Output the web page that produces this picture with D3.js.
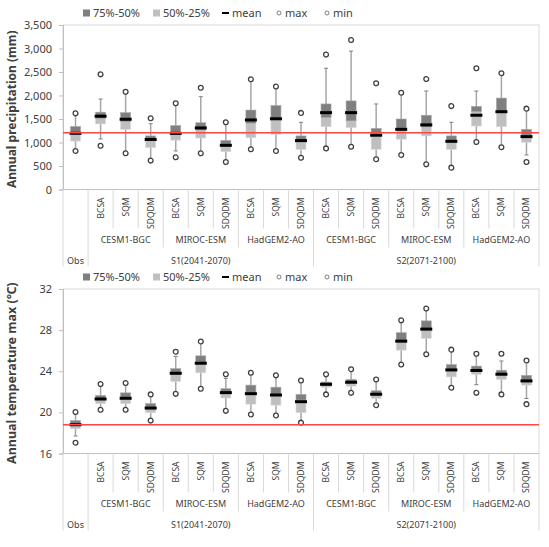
<!DOCTYPE html>
<html>
<head>
<meta charset="utf-8">
<script src="https://cdn.jsdelivr.net/npm/d3@7"></script>
<style>
  body { margin: 0; background: #fff; }
  text { font-family: "Noto Sans", "Open Sans", sans-serif; fill: #404040; }
</style>
</head>
<body>
<svg id="chart" width="549" height="547"></svg>
<script>
// category structure
const methods = ["BCSA", "SQM", "SDQDM"];
const models = ["CESM1-BGC", "MIROC-ESM", "HadGEM2-AO"];
const scenarios = ["S1(2041-2070)", "S2(2071-2100)"];

// annual precipitation (mm), Obs + 18 runs
const precipMax   = [1620, 2450, 2080, 1515, 1835, 2165, 1430, 2345, 2190, 1630, 2870, 3180, 2260, 2060, 2350, 1775, 2580, 2475, 1720];
const precipHi    = [1620, 1925, 2080, 1400, 1835, 1975, 1430, 2345, 2190, 1430, 2580, 2945, 1820, 2060, 2095, 1430, 2095, 2475, 1720];
const precipQ3    = [1340, 1645, 1635, 1140, 1360, 1420, 1045, 1690, 1785, 1140, 1820, 1885, 1300, 1500, 1580, 1140, 1770, 1945, 1280];
const precipMed   = [1200, 1515, 1445, 1040, 1160, 1265,  965, 1410, 1480, 1015, 1530, 1460, 1200, 1275, 1330, 1050, 1655, 1635, 1160];
const precipQ1    = [1030, 1395, 1280,  890, 1050, 1095,  805, 1100, 1175,  855, 1335, 1315,  855, 1070, 1140,  855, 1350, 1335, 1005];
const precipLo    = [ 820, 1075,  770,  615,  820,  770,  585,  855,  820,  675,  875,  910,  645,  735,  535,  465, 1010,  900,  735];
const precipMin   = [ 820,  930,  770,  615,  685,  770,  585,  855,  820,  675,  875,  910,  645,  735,  535,  465, 1010,  900,  585];
const precipMean  = [1196, 1560, 1495, 1065, 1195, 1310,  940, 1480, 1505, 1040, 1635, 1635, 1155, 1280, 1375, 1025, 1580, 1655, 1125];
const precipObs = 1205;

// annual temperature max (°C)
const tempMax  = [20.03, 22.75, 22.85, 21.75, 25.9, 26.9, 23.7, 23.85, 23.6, 23.1, 23.7, 24.2, 23.2, 28.95, 30.1, 26.1, 25.7, 25.7, 25.05];
const tempHi   = [20.03, 22.75, 22.85, 21.75, 25.45, 26.9, 23.3, 23.85, 23.6, 23.1, 23.7, 24.2, 23.2, 28.95, 30.1, 26.1, 25.7, 25.0, 25.05];
const tempQ3   = [19.2, 21.65, 21.9, 20.85, 24.25, 25.5, 22.3, 22.65, 22.45, 21.75, 22.95, 23.2, 22.1, 27.75, 28.9, 24.65, 24.5, 24.1, 23.6];
const tempMed  = [18.9, 21.3, 21.4, 20.5, 23.9, 24.8, 21.95, 21.8, 21.6, 21.2, 22.75, 22.95, 21.8, 26.8, 28.0, 24.2, 24.1, 23.75, 23.1];
const tempQ1   = [18.4, 20.85, 20.85, 19.97, 23.0, 23.85, 21.4, 20.8, 20.7, 19.97, 22.45, 22.55, 21.35, 26.05, 27.2, 23.45, 23.7, 23.2, 22.65];
const tempLo   = [17.7, 20.25, 20.25, 19.2, 21.8, 22.3, 20.15, 19.8, 19.7, 19.0, 21.75, 21.9, 20.7, 24.65, 25.65, 22.4, 22.7, 21.75, 21.35];
const tempMin  = [17.05, 20.25, 20.25, 19.2, 21.8, 22.3, 20.15, 19.8, 19.7, 19.0, 21.75, 21.9, 20.7, 24.65, 25.65, 22.4, 21.9, 21.75, 20.8];
const tempMean = [18.8, 21.3, 21.37, 20.42, 23.8, 24.78, 21.92, 21.82, 21.69, 21.04, 22.73, 22.93, 21.76, 26.93, 28.1, 24.13, 24.07, 23.71, 23.06];
const tempObs = 18.8;

const precipTicks = [0, 500, 1000, 1500, 2000, 2500, 3000, 3500];
const tempTicks = [16, 20, 24, 28, 32];

// build category list: Obs, then scenario > model > method
const categories = ["Obs"];
scenarios.forEach(s => models.forEach(m => methods.forEach(k => categories.push(`${s}|${m}|${k}`))));

function rows(mx, hi, q3, med, q1, lo, mn, mean) {
  return categories.map((c, i) => ({
    cat: c, max: mx[i], hi: hi[i], q3: q3[i], med: med[i], q1: q1[i], lo: lo[i], min: mn[i], mean: mean[i]
  }));
}

const svg = d3.select("#chart");
const left = 63, right = 539;

const x = d3.scaleBand().domain(categories).range([left, right]);

function drawPanel(top, opts) {
  const plotTop = top + 25, plotBottom = top + 189.5;
  const g = svg.append("g");

  const y = d3.scaleLinear().domain(opts.domain).range([plotBottom, plotTop]);

  // plot area border
  g.append("rect")
    .attr("x", left).attr("y", plotTop)
    .attr("width", right - left).attr("height", plotBottom - plotTop)
    .attr("fill", "none").attr("stroke", "#d9d9d9");

  // y axis
  const yAxis = g.append("g")
    .attr("transform", `translate(${left},0)`)
    .call(d3.axisLeft(y).tickValues(opts.ticks).tickSize(4).tickPadding(7).tickFormat(opts.fmt));
  yAxis.select(".domain").attr("stroke", "#bfbfbf");
  yAxis.selectAll(".tick line").attr("stroke", "#bfbfbf");
  yAxis.selectAll(".tick text").style("font-size", "11px").attr("fill", "#404040");

  // y title
  g.append("text")
    .attr("transform", `translate(16,${(plotTop + plotBottom) / 2 + 2}) rotate(-90)`)
    .attr("text-anchor", "middle")
    .style("font-size", opts.titleSize)
    .style("font-weight", "bold")
    .attr("fill", "#262626")
    .text(opts.title);

  // category axis
  const ax = g.append("g");
  ax.append("line")
    .attr("x1", left).attr("x2", right)
    .attr("y1", plotBottom).attr("y2", plotBottom)
    .attr("stroke", "#bfbfbf");

  const bw = x.bandwidth();
  const sep = (i, len) => ax.append("line")
    .attr("x1", left + i * bw).attr("x2", left + i * bw)
    .attr("y1", plotBottom).attr("y2", plotBottom + len)
    .attr("stroke", "#d9d9d9");
  for (let i = 0; i <= categories.length; i++) {
    if (i === 0 || i === 1 || i === 10 || i === 19) sep(i, 77);
    else if ((i - 1) % 3 === 0) sep(i, 58);
    else sep(i, 39);
  }

  ax.selectAll(".method")
    .data(categories.slice(1))
    .enter().append("text")
    .attr("class", "method")
    .attr("transform", d => `translate(${x(d) + bw / 2 + 3},${plotBottom + 8}) rotate(-90)`)
    .attr("text-anchor", "end")
    .style("font-size", "8.5px")
    .text(d => d.split("|")[2]);

  const modelLabels = [];
  scenarios.forEach((s, si) => models.forEach((m, mi) => modelLabels.push({ name: m, start: 1 + si * 9 + mi * 3 })));
  ax.selectAll(".model")
    .data(modelLabels)
    .enter().append("text")
    .attr("x", d => left + (d.start + 1.5) * bw)
    .attr("y", plotBottom + 53)
    .attr("text-anchor", "middle")
    .style("font-size", "9px")
    .text(d => d.name);

  ax.selectAll(".scen")
    .data(scenarios)
    .enter().append("text")
    .attr("x", (d, i) => left + (1 + i * 9 + 4.5) * bw)
    .attr("y", plotBottom + 74)
    .attr("text-anchor", "middle")
    .style("font-size", "9px")
    .text(d => d);

  ax.append("text")
    .attr("x", left + bw / 2)
    .attr("y", plotBottom + 74)
    .attr("text-anchor", "middle")
    .style("font-size", "9px")
    .text("Obs");

  // boxes
  const boxW = 10;
  const boxes = g.selectAll(".box")
    .data(opts.data)
    .enter().append("g")
    .attr("transform", d => `translate(${x(d.cat) + bw / 2},0)`);

  boxes.append("line")
    .attr("y1", d => y(d.hi)).attr("y2", d => y(d.lo))
    .attr("stroke", "#a6a6a6").attr("stroke-width", 1.5);
  boxes.append("line")
    .attr("x1", -2).attr("x2", 2)
    .attr("y1", d => y(d.hi)).attr("y2", d => y(d.hi))
    .attr("stroke", "#7f7f7f").attr("stroke-width", 1);
  boxes.append("line")
    .attr("x1", -2).attr("x2", 2)
    .attr("y1", d => y(d.lo)).attr("y2", d => y(d.lo))
    .attr("stroke", "#7f7f7f").attr("stroke-width", 1);

  boxes.append("rect")
    .attr("x", -boxW / 2).attr("width", boxW)
    .attr("y", d => y(d.med)).attr("height", d => y(d.q1) - y(d.med))
    .attr("fill", "#bfbfbf").attr("stroke", "#d9d9d9").attr("stroke-width", 0.6);
  boxes.append("rect")
    .attr("x", -boxW / 2).attr("width", boxW)
    .attr("y", d => y(d.q3)).attr("height", d => y(d.med) - y(d.q3))
    .attr("fill", "#7f7f7f").attr("stroke", "#a6a6a6").attr("stroke-width", 0.6);

  boxes.append("line")
    .attr("x1", -6).attr("x2", 6)
    .attr("y1", d => y(d.mean)).attr("y2", d => y(d.mean))
    .attr("stroke", "#000").attr("stroke-width", 3);

  boxes.append("circle")
    .attr("cy", d => y(d.max)).attr("r", 2.4)
    .attr("fill", "#fff").attr("stroke", "#404040").attr("stroke-width", 1.3);
  boxes.append("circle")
    .attr("cy", d => y(d.min)).attr("r", 2.4)
    .attr("fill", "#fff").attr("stroke", "#404040").attr("stroke-width", 1.3);

  // observed reference line
  g.append("line")
    .attr("x1", left).attr("x2", right)
    .attr("y1", y(opts.obs)).attr("y2", y(opts.obs))
    .attr("stroke", "#ff4545").attr("stroke-width", 1.5);

  // legend
  const ly = top + 13;
  const lg = g.append("g");
  lg.append("rect").attr("x", 83).attr("y", ly - 3.5).attr("width", 7).attr("height", 7).attr("fill", "#7f7f7f");
  lg.append("text").attr("x", 93).attr("y", ly + 4).style("font-size", "11px").text("75%-50%");
  lg.append("rect").attr("x", 153).attr("y", ly - 3.5).attr("width", 7).attr("height", 7).attr("fill", "#bfbfbf");
  lg.append("text").attr("x", 163).attr("y", ly + 4).style("font-size", "11px").text("50%-25%");
  lg.append("line").attr("x1", 222).attr("x2", 229).attr("y1", ly).attr("y2", ly).attr("stroke", "#000").attr("stroke-width", 2);
  lg.append("text").attr("x", 232).attr("y", ly + 4).style("font-size", "11px").text("mean");
  lg.append("circle").attr("cx", 279).attr("cy", ly).attr("r", 2).attr("fill", "#fff").attr("stroke", "#7f7f7f");
  lg.append("text").attr("x", 285).attr("y", ly + 4).style("font-size", "11px").text("max");
  lg.append("circle").attr("cx", 327).attr("cy", ly).attr("r", 2).attr("fill", "#fff").attr("stroke", "#7f7f7f");
  lg.append("text").attr("x", 333).attr("y", ly + 4).style("font-size", "11px").text("min");
}

drawPanel(0, {
  data: rows(precipMax, precipHi, precipQ3, precipMed, precipQ1, precipLo, precipMin, precipMean),
  domain: [0, 3500], ticks: precipTicks, fmt: d3.format(","),
  title: "Annual precipitation (mm)", titleSize: "12px", obs: precipObs
});

drawPanel(264, {
  data: rows(tempMax, tempHi, tempQ3, tempMed, tempQ1, tempLo, tempMin, tempMean),
  domain: [16, 32], ticks: tempTicks, fmt: d3.format("d"),
  title: "Annual temperature max (\u2103)", titleSize: "12.5px", obs: tempObs
});
</script>
</body>
</html>
